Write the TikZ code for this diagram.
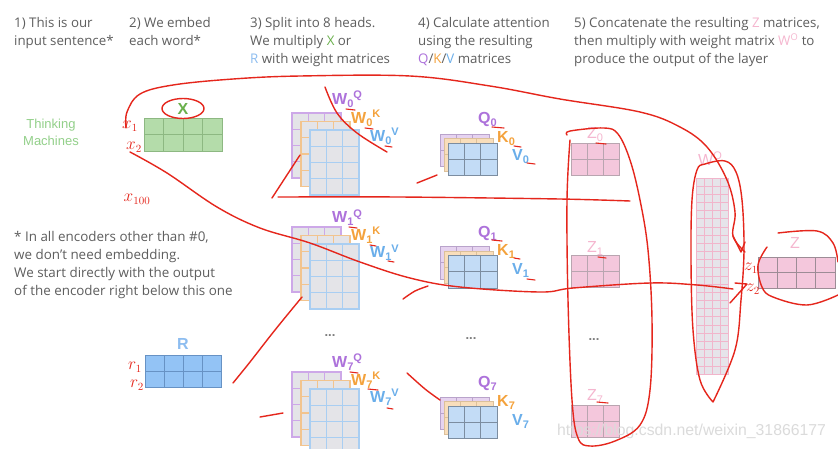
\documentclass[tikz,border=0pt]{standalone}
\usepackage{fontspec}
\setmainfont{Open Sans}
\newfontfamily\arialf{Liberation Sans}
\definecolor{txt}{HTML}{5E5E5E}
\definecolor{cx}{HTML}{6AB04C}
\definecolor{cr}{HTML}{8DBDF0}
\definecolor{cq}{HTML}{AD72DB}
\definecolor{ck}{HTML}{F4A23C}
\definecolor{cv}{HTML}{6AAEEA}
\definecolor{cz}{HTML}{F5B6CF}
\definecolor{tm}{HTML}{93D08A}
\definecolor{redpen}{HTML}{E5261C}
\definecolor{wgray}{HTML}{E4E4E8}
\definecolor{wpb}{HTML}{CDA8E8}
\definecolor{wob}{HTML}{F2C48E}
\definecolor{wbb}{HTML}{A9CEF2}
\definecolor{qpf}{HTML}{E6D3F0}
\definecolor{qpb}{HTML}{B9A3CB}
\definecolor{qof}{HTML}{F9DEBB}
\definecolor{qob}{HTML}{DCC09A}
\definecolor{qbf}{HTML}{C3DCF6}
\definecolor{qbb}{HTML}{7C8DA0}
\definecolor{zf}{HTML}{F4C7DC}
\definecolor{zb}{HTML}{B9A5B0}
\definecolor{wof}{HTML}{E6E4EA}
\definecolor{wob2}{HTML}{F1B5CB}
\definecolor{xf}{HTML}{B4DCAA}
\definecolor{xb}{HTML}{8DB882}
\definecolor{rf}{HTML}{93C3F5}
\definecolor{rb}{HTML}{6792C4}
\newcommand\lsb[1]{\raisebox{-0.2em}{\fontsize{11}{11}\selectfont#1}}
\newcommand\lsp[1]{\raisebox{0.32em}{\fontsize{11}{11}\selectfont#1}}
% name, x, y, cols, rows, cw, ch, fill, line style
\newcommand\gmat[9]{%
  \node[inner sep=0pt, outer sep=0pt, anchor=north west,
        minimum width=#4*#6pt, minimum height=#5*#7pt, fill=#8, #9] (#1) at (#2,#3) {};
  \pgfmathtruncatemacro\gmc{#4-1}\pgfmathtruncatemacro\gmr{#5-1}%
  \foreach \i in {1,...,\gmc} \draw[#9] ([xshift=\i*#6pt]#1.north west) -- ([xshift=\i*#6pt]#1.south west);
  \foreach \j in {1,...,\gmr} \draw[#9] ([yshift=-\j*#7pt]#1.north west) -- ([yshift=-\j*#7pt]#1.north east);
}
\tikzset{
  hdr/.style={anchor=north west, inner sep=0pt, align=left, text=txt, font=\fontsize{13.3}{18}\selectfont},
  lbl/.style={anchor=base west, inner sep=0pt, font=\arialf\bfseries\fontsize{16}{16}\selectfont},
  zl/.style={anchor=base west, inner sep=0pt, text=cz, font=\arialf\fontsize{16}{16}\selectfont},
  pen/.style={draw=redpen, line width=1.4pt, line cap=round, line join=round},
  hand/.style={text=redpen, inner sep=0pt, font=\fontsize{16}{16}\selectfont},
  dots/.style={inner sep=0pt, text=txt!80, font=\arialf\bfseries\fontsize{13}{13}\selectfont},
}
\begin{document}
\begin{tikzpicture}[x=1pt,y=-1pt]
\useasboundingbox[fill=white] (0,0) rectangle (838,448);

% headers
\node[hdr] (h1) at (14,17.5) {1) This is our\\input sentence*};
\node[hdr] (h2) at (129,17.5) {2) We embed\\each word*};
\node[hdr] (h3) at (250,17.5) {3) Split into 8 heads.\\We multiply \textcolor{cx}{X} or\\\textcolor{cr}{R} with weight matrices};
\node[hdr] (h4) at (418,17.5) {4) Calculate attention\\using the resulting\\\textcolor{cq}{Q}/\textcolor{ck}{K}/\textcolor{cv}{V} matrices};
\node[hdr] (h5) at (574,17.5) {5) Concatenate the resulting \textcolor{cz}{Z} matrices,\\then multiply with weight matrix \textcolor{cz}{W\textsuperscript{O}} to\\produce the output of the layer};

\node[hdr, font=\fontsize{13.4}{17.7}\selectfont] (fn) at (14,231.6) {* In all encoders other than \#0,\\we don’t need embedding.\\We start directly with the output\\of the encoder right below this one};

\node[inner sep=0pt, align=center, text=tm, font=\arialf\fontsize{13}{17}\selectfont] (tmach) at (51,132) {Thinking\\Machines};

% X and R
\gmat{xm}{144}{118}{4}{2}{19.5}{16.5}{xf}{draw=xb, line width=1pt}
\node[lbl, text=cx, anchor=base] (xl) at (183,114) {X};
\gmat{rm}{145}{355}{4}{2}{19}{16}{rf}{draw=rb, line width=1pt}
\node[lbl, text=cr, anchor=base] (rl) at (183,349) {R};

% W stacks
\foreach \r/\yy in {0/113, 1/227, 7/372}{
  \gmat{wp\r}{292}{\yy}{3}{4}{16.33}{16.25}{wgray}{draw=wpb, line width=1.3pt}
  \gmat{wo\r}{301}{\yy+8.5}{3}{4}{16.33}{16.25}{wgray}{draw=wob, line width=1.3pt}
  \gmat{wb\r}{310}{\yy+17}{3}{4}{16.33}{16.25}{wgray}{draw=wbb, line width=1.3pt}
}
% Q stacks
\foreach \r/\yy in {0/134, 1/246.5, 7/397}{
  \gmat{qp\r}{440}{\yy}{3}{2}{16.33}{16.25}{qpf}{draw=qpb, line width=0.9pt}
  \gmat{qo\r}{444}{\yy+4.5}{3}{2}{16.33}{16.25}{qof}{draw=qob, line width=0.9pt}
  \gmat{qb\r}{448}{\yy+9}{3}{2}{16.33}{16.25}{qbf}{draw=qbb, line width=0.9pt}
}
% W labels
\foreach \r/\ya/\yb/\yc in {0/104/123/141, 1/222.5/240/257.5, 7/367/385/402}{
  \node[lbl, text=cq] (lwq\r) at (332,\ya) {W\lsb{\r}\lsp{Q}};
  \node[lbl, text=ck] (lwk\r) at (351,\yb) {W\lsb{\r}\lsp{K}};
  \node[lbl, text=cv] (lwv\r) at (370,\yc) {W\lsb{\r}\lsp{V}};
}
% QKV labels
\foreach \r/\ya/\yb/\yc in {0/123/142/160, 1/237/255/274, 7/387/406/425}{
  \node[lbl, text=cq] (lq\r) at (478,\ya) {Q\lsb{\r}};
  \node[lbl, text=ck] (lk\r) at (497,\yb) {K\lsb{\r}};
  \node[lbl, text=cv] (lv\r) at (512,\yc) {V\lsb{\r}};
}
% Z matrices
\foreach \r/\yy/\yl in {0/143/138, 1/255/252, 7/405/400}{
  \gmat{zm\r}{571}{\yy}{3}{2}{16}{16}{zf}{draw=zb, line width=0.9pt}
  \node[zl] (lz\r) at (587,\yl) {Z\lsb{\r}};
}
% dots
\node[dots] (d1) at (330,336) {...};
\node[dots] (d2) at (471,339) {...};
\node[dots] (d3) at (594,340) {...};

% W^O
\gmat{wom}{696}{178}{4}{24}{8}{8.17}{wof}{draw=wob2, line width=0.8pt}
\node[zl] (lwo) at (698,165) {W\lsp{O}};
% Z output
\gmat{zz}{758}{257}{4}{2}{19.25}{15.5}{zf}{draw=zb!85!black, line width=0.9pt}
\node[zl, anchor=base] (lzz) at (795,248) {Z};

% watermark
\node[anchor=base west, inner sep=0pt, text=gray!28, font=\arialf\fontsize{15.8}{15.8}\selectfont] (wm) at (557,435) {https://blog.csdn.net/weixin\_31866177};

% ---------- red pen annotations ----------
\draw[pen] (xl) ellipse [x radius=21, y radius=10];
\draw[pen] plot[smooth, tension=0.6] coordinates {(126,128) (127,112) (140,94) (173,85) (233,79) (300,76) (410,76) (490,86) (560,99) (640,112) (680,127) (707,147) (727,180) (735,212) (733,236) (745,252)};
\draw[pen] plot[smooth, tension=0.6] coordinates {(713,402) (700,380) (693,330) (691,260) (692,200) (697,170) (705,164) (725,161) (736,172) (742,200) (744,250) (741,300) (735,350) (713,402)};
\draw[pen] plot[smooth, tension=0.6] coordinates {(567,135) (570,131) (604,128) (618,134) (630,160) (640,200) (648,250) (652,320) (650,390) (640,425) (615,441) (590,446) (578,438) (572,400) (568,300) (567,200) (570,140)};
\draw[pen] plot[smooth, tension=0.5] coordinates {(278,197) (400,197) (560,199) (630,201)};
\draw[pen] (272,198) -- (300,155);
\draw[pen] plot[smooth, tension=0.6] coordinates {(130,152) (167,173) (217,207) (260,228) (310,243) (360,262) (410,278) (460,287) (540,292) (573,288) (650,283) (697,285) (733,289)};
\draw[pen] (730,303) -- (747,284) (735,283) -- (747,284);
\draw[pen] plot[smooth, tension=0.6] coordinates {(325,87) (337,113) (357,133) (387,152)};
\draw[pen] (417,183) -- (437,175);
\draw[pen] plot[smooth] coordinates {(403,299) (415,291) (428,286)};
\draw[pen] plot[smooth, tension=0.6] coordinates {(233,383) (250,362) (275,330) (302,297)};
\draw[pen] (260,417) -- (283,413);
\draw[pen] plot[smooth] coordinates {(407,373) (425,389) (440,400)};
\draw[pen] plot[smooth, tension=0.6] coordinates {(767,247) (758,265) (762,287) (773,297) (807,305) (838,295)};
\draw[pen] plot[smooth, tension=0.6] coordinates {(778,233) (817,231) (833,243) (838,262)};
\draw[pen] (733,236) -- (741,252) -- (745,242);
% small ticks under subscripts
\foreach \a/\b/\c in {346/109/355, 365/128/373, 385/146/392, 492/127/504, 514/146/521, 527/163/535,
                      349/227/357, 370/245/376, 388/261/394, 492/240/502, 514/258/520, 527/279/535,
                      350/372/358, 368/389/378, 387/408/393, 596/143/606, 598/257/606, 597/402/608}
  \draw[pen, line width=1.1pt] (\a,\b) -- (\c,\b+1);
% handwritten labels
\node[hand] (hx1) at (130,126) {$x_1$};
\node[hand] (hx2) at (134,147) {$x_2$};
\node[hand] (hx3) at (137,199) {$x_{100}$};
\node[hand] (hr1) at (135,367) {$r_1$};
\node[hand] (hr2) at (137,385) {$r_2$};
\node[hand] (hz1) at (751,268) {$z_1$};
\node[hand] (hz2) at (753,289) {$z_2$};
\end{tikzpicture}
\end{document}
